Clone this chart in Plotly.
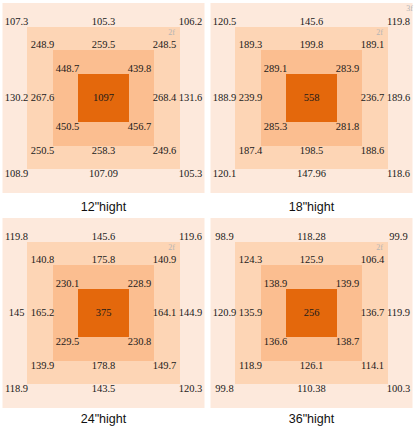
import plotly.graph_objects as go

# ---- data ----
captions = ['12"hight', '18"hight', '24"hight', '36"hight']
# outer ring: TL, T, TR, L, R, BL, B, BR
outer_vals = [
    ["107.3", "105.3", "106.2", "130.2", "131.6", "108.9", "107.09", "105.3"],
    ["120.5", "145.6", "119.8", "188.9", "189.6", "120.1", "147.96", "118.6"],
    ["119.8", "145.6", "119.6", "145", "144.9", "118.9", "143.5", "120.3"],
    ["98.9", "118.28", "99.9", "120.9", "119.9", "99.8", "110.38", "100.3"],
]
ring2_vals = [
    ["248.9", "259.5", "248.5", "267.6", "268.4", "250.5", "258.3", "249.6"],
    ["189.3", "199.8", "189.1", "239.9", "236.7", "187.4", "198.5", "188.6"],
    ["140.8", "175.8", "140.9", "165.2", "164.1", "139.9", "178.8", "149.7"],
    ["124.3", "125.9", "106.4", "135.9", "136.7", "118.9", "126.1", "114.1"],
]
# inner ring corners: TL, TR, BL, BR
ring3_vals = [
    ["448.7", "439.8", "450.5", "456.7"],
    ["289.1", "283.9", "285.3", "281.8"],
    ["230.1", "228.9", "229.5", "230.8"],
    ["138.9", "139.9", "136.6", "138.7"],
]
center_vals = ["1097", "558", "375", "256"]
show_3f = [False, True, False, False]

# ---- layout constants ----
W, H = 416, 430
panel_centers = [(103.5, 98), (311.5, 98), (103.5, 313), (311.5, 313)]
caption_y = [208, 208, 420, 420]
rects = [  # half-width, half-height, color
    (101, 95, "#FDE9DC"),
    (76.5, 71, "#FDD5B5"),
    (50.5, 48, "#FBBE90"),
    (25.5, 24, "#E4680C"),
]
eight_pos = [(-1, -1), (0, -1), (1, -1), (-1, 0), (1, 0), (-1, 1), (0, 1), (1, 1)]
four_pos = [(-1, -1), (1, -1), (-1, 1), (1, 1)]

fig = go.Figure()
shapes = []
for p, (cx, cy) in enumerate(panel_centers):
    for hw, hh, col in rects:
        shapes.append(dict(type="rect", xref="x", yref="y", x0=cx - hw, x1=cx + hw,
                           y0=cy - hh, y1=cy + hh, fillcolor=col, line=dict(width=0),
                           layer="below"))
    xs, ys, ts = [], [], []
    for (dx, dy), v in zip(eight_pos, outer_vals[p]):
        xs.append(cx + dx * 87); ys.append(cy + dy * 76); ts.append(v)
    for (dx, dy), v in zip(eight_pos, ring2_vals[p]):
        xs.append(cx + dx * 61); ys.append(cy + dy * 53); ts.append(v)
    for (dx, dy), v in zip(four_pos, ring3_vals[p]):
        xs.append(cx + dx * 36); ys.append(cy + dy * 29); ts.append(v)
    xs.append(cx); ys.append(cy); ts.append(center_vals[p])
    fig.add_trace(go.Scatter(x=xs, y=ys, text=ts, mode="text", textposition="middle center",
                             textfont=dict(family="Liberation Serif", size=10.5, color="#1a1a1a"),
                             hoverinfo="skip", showlegend=False))
    # small floor tags
    tx, ty, tt = [cx + 68], [cy - 65], ["2f"]
    if show_3f[p]:
        tx.append(cx + 98); ty.append(cy - 89); tt.append("3f")
    fig.add_trace(go.Scatter(x=tx, y=ty, text=tt, mode="text",
                             textfont=dict(family="Liberation Serif", size=8, color="#B4B4B4"),
                             hoverinfo="skip", showlegend=False))
    fig.add_trace(go.Scatter(x=[cx], y=[caption_y[p]], text=[captions[p]], mode="text",
                             textfont=dict(family="Liberation Sans", size=12.5, color="#111111"),
                             hoverinfo="skip", showlegend=False))

fig.update_layout(
    width=W, height=H, margin=dict(l=0, r=0, t=0, b=0),
    paper_bgcolor="white", plot_bgcolor="white", shapes=shapes,
    xaxis=dict(range=[0, W], visible=False, fixedrange=True),
    yaxis=dict(range=[H, 0], visible=False, fixedrange=True),
)
fig.write_html("out.html", config={"displayModeBar": False})
